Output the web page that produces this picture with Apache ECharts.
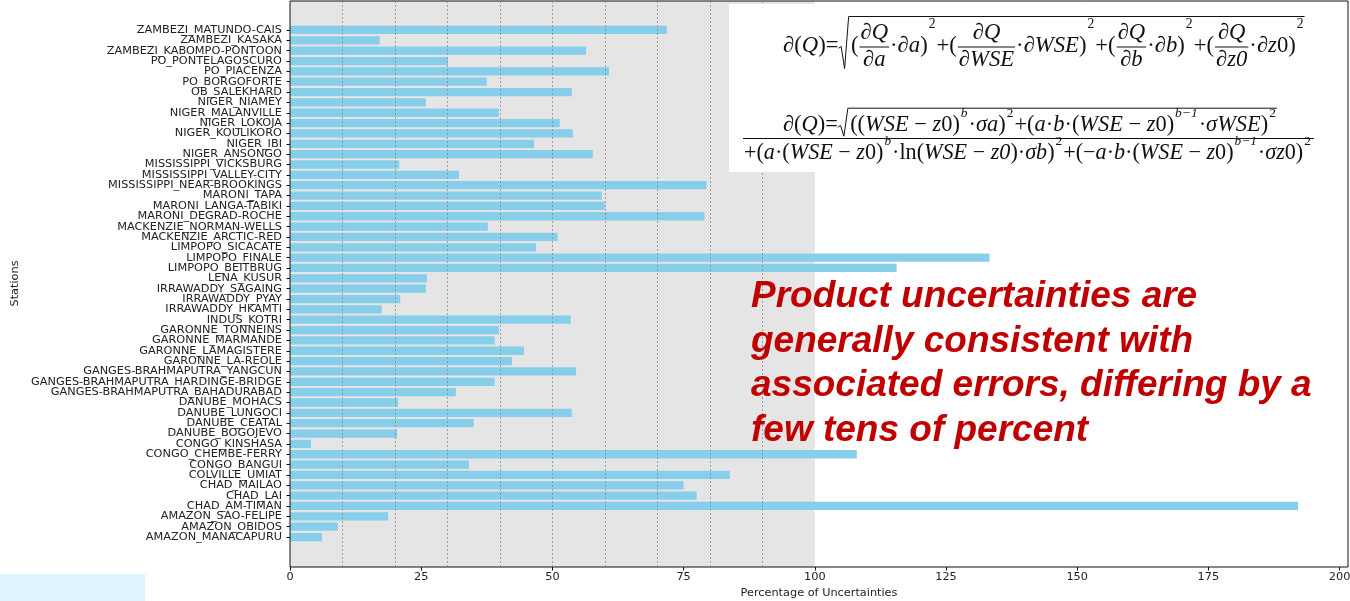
<!DOCTYPE html>
<html><head><meta charset="utf-8">
<script src="https://cdn.jsdelivr.net/npm/echarts@6/dist/echarts.min.js"></script>
<style>html,body{margin:0;padding:0;background:#fff}#c{width:1350px;height:601px}</style>
</head><body><div id="c"></div>
<script>
// ---- data (top to bottom as shown) ----
const stations = [
  "ZAMBEZI_MATUNDO-CAIS","ZAMBEZI_KASAKA","ZAMBEZI_KABOMPO-PONTOON","PO_PONTELAGOSCURO","PO_PIACENZA",
  "PO_BORGOFORTE","OB_SALEKHARD","NIGER_NIAMEY","NIGER_MALANVILLE","NIGER_LOKOJA",
  "NIGER_KOULIKORO","NIGER_IBI","NIGER_ANSONGO","MISSISSIPPI_VICKSBURG","MISSISSIPPI_VALLEY-CITY",
  "MISSISSIPPI_NEAR-BROOKINGS","MARONI_TAPA","MARONI_LANGA-TABIKI","MARONI_DEGRAD-ROCHE","MACKENZIE_NORMAN-WELLS",
  "MACKENZIE_ARCTIC-RED","LIMPOPO_SICACATE","LIMPOPO_FINALE","LIMPOPO_BEITBRUG","LENA_KUSUR",
  "IRRAWADDY_SAGAING","IRRAWADDY_PYAY","IRRAWADDY_HKAMTI","INDUS_KOTRI","GARONNE_TONNEINS",
  "GARONNE_MARMANDE","GARONNE_LAMAGISTERE","GARONNE_LA-REOLE","GANGES-BRAHMAPUTRA_YANGCUN","GANGES-BRAHMAPUTRA_HARDINGE-BRIDGE",
  "GANGES-BRAHMAPUTRA_BAHADURABAD","DANUBE_MOHACS","DANUBE_LUNGOCI","DANUBE_CEATAL","DANUBE_BOGOJEVO",
  "CONGO_KINSHASA","CONGO_CHEMBE-FERRY","CONGO_BANGUI","COLVILLE_UMIAT","CHAD_MAILAO",
  "CHAD_LAI","CHAD_AM-TIMAN","AMAZON_SAO-FELIPE","AMAZON_OBIDOS","AMAZON_MANACAPURU"
];
const uncertainties = [
  71.8, 17.1, 56.4, 30.1, 60.8,
  37.5, 53.7, 25.9, 39.8, 51.4,
  53.9, 46.5, 57.7, 20.8, 32.2,
  79.4, 59.4, 60.0, 79.0, 37.7,
  51.0, 46.9, 133.3, 115.6, 26.1,
  25.9, 21.0, 17.5, 53.5, 39.8,
  39.0, 44.6, 42.3, 54.5, 39.0,
  31.6, 20.6, 53.7, 35.0, 20.4,
  4.0, 108.0, 34.1, 83.8, 75.0,
  77.5, 192.1, 18.7, 9.1, 6.1
];
const xTickValues = [0, 25, 50, 75, 100, 125, 150, 175, 200];
const greyRange = [0, 100];
const dottedGrid = [10, 20, 30, 40, 50, 60, 70, 80, 90];
const xMax = 201.6;
const annotationLines = [
  "Product uncertainties are",
  "generally consistent with",
  "associated errors, differing by a",
  "few tens of percent"
];

// ---- formula layout helpers ----
const ctx = document.createElement('canvas').getContext('2d');
const FF = '"Liberation Serif", "DejaVu Serif", serif';
function fontStr(s, it) { return (it ? 'italic ' : '') + s.toFixed(2) + 'px ' + FF; }
function tw(t, s, it) { ctx.font = fontStr(s, it); return ctx.measureText(t).width; }
function txt(t, x, y, s, it, align) {
  return { type: 'text', z: 101, silent: true,
    style: { text: t, x: x, y: y, font: fontStr(s, it), fill: '#111',
      align: align || 'left', verticalAlign: 'middle', textAlign: align || 'left', textVerticalAlign: 'middle' } };
}
function layout(tokens, fs, x0, yc, out) {
  let x = x0, sq = 0;
  for (const tk of tokens) {
    if (tk.t !== undefined) {
      if (out) out.push(txt(tk.t, x, yc, fs, tk.i));
      x += tw(tk.t, fs, tk.i);
    } else if (tk.sup !== undefined) {
      const s = fs * 0.6;
      if (out) out.push(txt(tk.sup, x + 1, yc - fs * (tk.up || 0.5), s, tk.i));
      x += tw(tk.sup, s, tk.i) + 2;
    } else if (tk.frac) {
      const wn = tw(tk.frac[0], fs, true), wd = tw(tk.frac[1], fs, true);
      const ww = Math.max(wn, wd) + 4;
      if (out) {
        out.push(txt(tk.frac[0], x + ww / 2, yc - fs * 0.55, fs, true, 'center'));
        out.push(txt(tk.frac[1], x + ww / 2, yc + fs * 0.62, fs, true, 'center'));
        out.push({ type: 'line', z: 101, silent: true, shape: { x1: x + 1, y1: yc + 1, x2: x + ww - 1, y2: yc + 1 },
          style: { stroke: '#111', lineWidth: 1 } });
      }
      x += ww;
    } else if (tk.sqrt === 'start') {
      sq = x; x += fs * 0.55;
    } else if (tk.sqrt === 'end') {
      if (out) out.push({ type: 'polyline', z: 101, silent: true,
        shape: { points: [[sq, yc + fs * 0.1], [sq + fs * 0.12, yc + fs * 0.02], [sq + fs * 0.27, yc + fs * tk.bottom],
          [sq + fs * 0.45, yc - fs * tk.top], [x, yc - fs * tk.top]] },
        style: { stroke: '#111', lineWidth: 1, fill: null } });
    } else if (tk.gap) {
      x += tk.gap * fs;
    }
  }
  return x - x0;
}
function fitFormula(tokens, x0, x1, yc, out) {
  const w20 = layout(tokens, 20, 0, 0, null);
  const fs = 20 * (x1 - x0) / w20;
  layout(tokens, fs, x0, yc, out);
}
const I = true;
const formula1 = [
  {t:'∂('},{t:'Q',i:I},{t:')='},{sqrt:'start'},{t:'('},{frac:['∂Q','∂a']},{t:'·∂'},{t:'a',i:I},{t:')'},{sup:'2',up:0.95},
  {t:'+('},{frac:['∂Q','∂WSE']},{t:'·∂'},{t:'WSE',i:I},{t:')'},{sup:'2',up:0.95},
  {t:'+('},{frac:['∂Q','∂b']},{t:'·∂'},{t:'b',i:I},{t:')'},{sup:'2',up:0.95},
  {t:'+('},{frac:['∂Q','∂z0']},{t:'·∂'},{t:'z',i:I},{t:'0)'},{sup:'2',up:0.95},
  {sqrt:'end',top:1.3,bottom:1.0}
];
const formula2num = [
  {t:'∂('},{t:'Q',i:I},{t:')='},{sqrt:'start'},{t:'(('},{t:'WSE',i:I},{t:' − '},{t:'z',i:I},{t:'0)'},{sup:'b',i:I},
  {t:'·'},{t:'σa',i:I},{t:')'},{sup:'2'},{t:'+('},{t:'a',i:I},{t:'·'},{t:'b',i:I},{t:'·('},{t:'WSE',i:I},{t:' − '},
  {t:'z',i:I},{t:'0)'},{sup:'b−1',i:I},{t:'·'},{t:'σWSE',i:I},{t:')'},{sup:'2'},{sqrt:'end',top:0.75,bottom:0.5}
];
const formula2den = [
  {t:'+('},{t:'a',i:I},{t:'·('},{t:'WSE',i:I},{t:' − '},{t:'z',i:I},{t:'0)'},{sup:'b',i:I},{t:'·ln('},{t:'WSE',i:I},
  {t:' − '},{t:'z0',i:I},{t:')·'},{t:'σb',i:I},{t:')'},{sup:'2'},{t:'+(−'},{t:'a',i:I},{t:'·'},{t:'b',i:I},{t:'·('},
  {t:'WSE',i:I},{t:' − '},{t:'z',i:I},{t:'0)'},{sup:'b−1',i:I},{t:'·'},{t:'σz',i:I},{t:'0)'},{sup:'2'}
];

const graphics = [];
graphics.push({ type: 'rect', z: 100, silent: true, shape: { x: 729, y: 4, width: 617, height: 168 }, style: { fill: '#ffffff' } });
fitFormula(formula1, 783, 1308, 46, graphics);
fitFormula(formula2num, 783, 1278, 125, graphics);
graphics.push({ type: 'line', z: 101, silent: true, shape: { x1: 743, y1: 138.5, x2: 1314, y2: 138.5 }, style: { stroke: '#111', lineWidth: 1 } });
fitFormula(formula2den, 744, 1313, 153, graphics);
annotationLines.forEach((ln, k) => {
  graphics.push({ type: 'text', z: 102, silent: true,
    style: { text: ln, x: 751, y: 297 + k * 44.5, font: 'italic bold 37px "Liberation Sans", Arial, sans-serif',
      fill: '#C00000', align: 'left', verticalAlign: 'middle', textAlign: 'left', textVerticalAlign: 'middle' } });
});
graphics.push({ type: 'rect', z: 100, silent: true, shape: { x: 0, y: 574, width: 145, height: 27 }, style: { fill: '#DFF4FD' } });

const chart = echarts.init(document.getElementById('c'), null, { renderer: 'canvas' });
const labelFont = { fontFamily: 'DejaVu Sans', fontSize: 11.3, color: '#222' };
chart.setOption({
  animation: false,
  backgroundColor: '#ffffff',
  textStyle: { fontFamily: 'DejaVu Sans' },
  grid: [
    { left: 290, right: 2, top: 1, bottom: 34, show: true, z: 5, borderColor: '#111', borderWidth: 1,
      backgroundColor: 'transparent', containLabel: false, outerBoundsMode: 'none' },
    { left: 290, right: 2, top: 24.8, bottom: 58.8, containLabel: false, outerBoundsMode: 'none' }
  ],
  xAxis: [
    { type: 'value', gridIndex: 0, min: 0, max: xMax, interval: 25,
      axisLine: { show: false }, splitLine: { show: false },
      axisTick: { show: true, length: 3.5, lineStyle: { color: '#111' } },
      axisLabel: Object.assign({ margin: 5, showMaxLabel: false,
        formatter: v => (xTickValues.indexOf(v) >= 0 ? String(v) : '') }, labelFont),
      name: 'Percentage of Uncertainties', nameLocation: 'middle', nameGap: 21,
      nameTextStyle: labelFont },
    { type: 'value', gridIndex: 1, min: 0, max: xMax, show: false }
  ],
  yAxis: [
    { type: 'value', gridIndex: 0, min: 0, max: 1, show: false },
    { type: 'category', gridIndex: 1, inverse: true, data: stations,
      axisLine: { show: false }, splitLine: { show: false },
      axisTick: { show: true, alignWithLabel: true, length: 3.5, lineStyle: { color: '#111' } },
      axisLabel: Object.assign({ interval: 0, margin: 8 }, labelFont),
      name: 'Stations', nameLocation: 'middle', nameRotate: 90, nameGap: 265,
      nameTextStyle: labelFont }
  ],
  series: [
    { type: 'line', xAxisIndex: 0, yAxisIndex: 0, data: [], z: 1, silent: true,
      markArea: { silent: true, itemStyle: { color: '#E5E5E5' }, data: [[{ xAxis: greyRange[0] }, { xAxis: greyRange[1] }]] },
      markLine: { silent: true, symbol: ['none', 'none'], label: { show: false },
        lineStyle: { type: [2, 2], color: '#8a8a8a', width: 0.8 },
        data: dottedGrid.map(v => ({ xAxis: v })) } },
    { type: 'bar', xAxisIndex: 1, yAxisIndex: 1, data: uncertainties, barWidth: '80%', z: 3, silent: true,
      itemStyle: { color: '#87CEEB' } }
  ],
  graphic: { elements: graphics }
});
</script></body></html>
